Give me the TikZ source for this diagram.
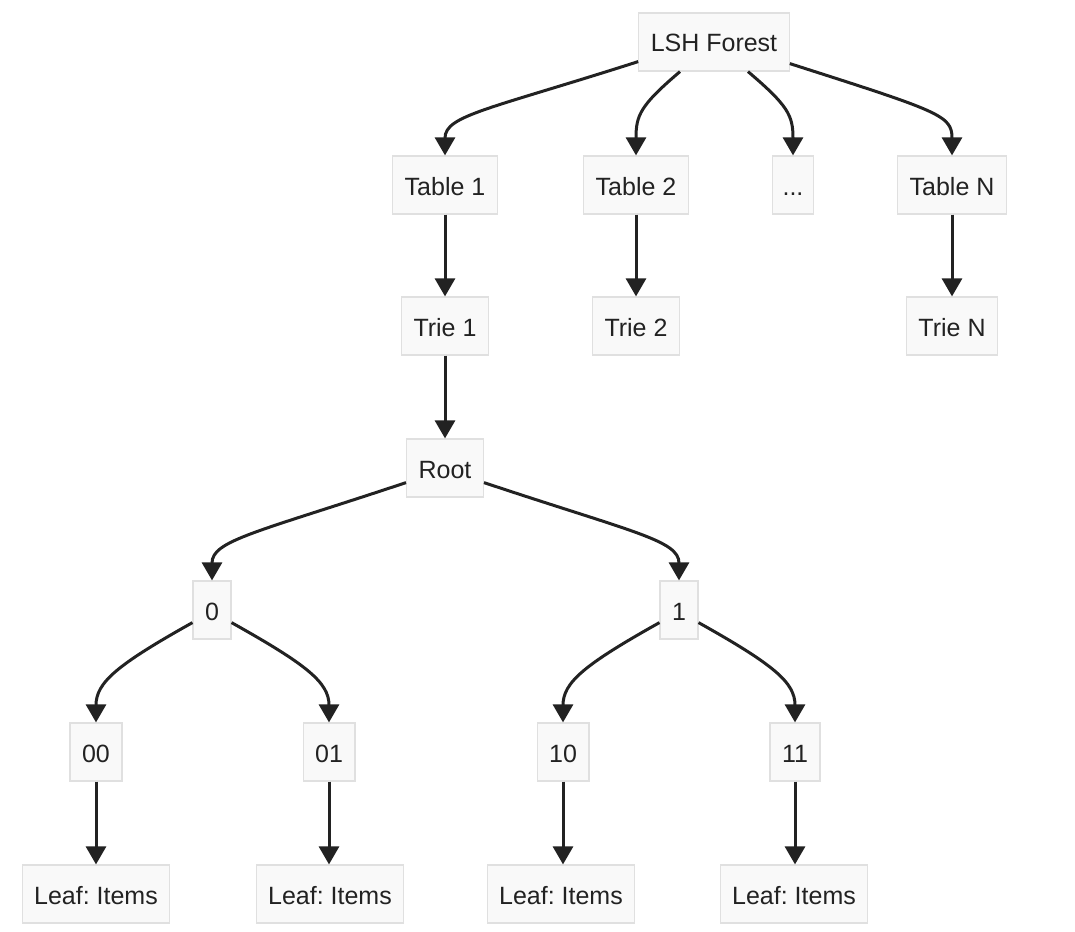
\documentclass[tikz,border=0pt]{standalone}
\usepackage{fontspec}
\setmainfont{Liberation Sans}
\usetikzlibrary{arrows.meta}
\definecolor{nfill}{HTML}{F9F9F9}
\definecolor{nline}{HTML}{E0E0E0}
\definecolor{ink}{HTML}{222222}
\frenchspacing
\begin{document}
\begin{tikzpicture}[x=1pt,y=-1pt,
  box/.style={draw=nline,fill=nfill,line width=1.2pt,minimum height=58pt,inner xsep=12pt,inner ysep=0pt,text=ink,font=\fontsize{25}{30}\selectfont,text depth=0pt,text height=20pt},
  arr/.style={draw=ink,line width=3pt,-{Triangle[length=18pt,width=20pt]}}]
\useasboundingbox (0,0) rectangle (1075,931);
\node[box] (lsh) at (714,42) {LSH Forest};
\node[box] (t1) at (445,185) {Table 1};
\node[box] (t2) at (636,185) {Table 2};
\node[box,inner xsep=10pt] (td) at (793,185) {.{}.{}.};
\node[box] (tn) at (952,185) {Table N};
\node[box] (r1) at (445,326) {Trie 1};
\node[box] (r2) at (636,326) {Trie 2};
\node[box] (rn) at (952,326) {Trie N};
\node[box] (root) at (445,468) {Root};
\node[box] (n0) at (212,610) {0};
\node[box] (n1) at (679,610) {1};
\node[box] (n00) at (96,752) {00};
\node[box] (n01) at (329,752) {01};
\node[box] (n10) at (563,752) {10};
\node[box] (n11) at (795,752) {11};
\node[box] (l1) at (96,894) {Leaf: Items};
\node[box] (l2) at (330,894) {Leaf: Items};
\node[box] (l3) at (561,894) {Leaf: Items};
\node[box] (l4) at (794,894) {Leaf: Items};

% LSH Forest to tables
\draw[arr] ([yshift=10pt]lsh.south west) .. controls +(-150,48) and +(0,-40) .. (t1.north);
\draw[arr] ([xshift=-34pt]lsh.south) .. controls +(-40,34) and +(0,-40) .. (t2.north);
\draw[arr] ([xshift=34pt]lsh.south) .. controls +(40,34) and +(0,-40) .. (td.north);
\draw[arr] ([yshift=8pt]lsh.south east) .. controls +(150,48) and +(0,-40) .. (tn.north);
% tables to tries
\draw[arr] (t1) -- (r1);
\draw[arr] (t2) -- (r2);
\draw[arr] (tn) -- (rn);
\draw[arr] (r1) -- (root);
% root to 0 / 1
\draw[arr] ([yshift=15pt]root.south west) .. controls +(-150,50) and +(0,-40) .. (n0.north);
\draw[arr] ([yshift=15pt]root.south east) .. controls +(150,50) and +(0,-40) .. (n1.north);
% 0 / 1 to children
\draw[arr] ([yshift=17pt]n0.south west) .. controls +(-75,42) and +(0,-40) .. (n00.north);
\draw[arr] ([yshift=17pt]n0.south east) .. controls +(75,42) and +(0,-40) .. (n01.north);
\draw[arr] ([yshift=17pt]n1.south west) .. controls +(-75,42) and +(0,-40) .. (n10.north);
\draw[arr] ([yshift=17pt]n1.south east) .. controls +(75,42) and +(0,-40) .. (n11.north);
% leaves
\draw[arr] (n00) -- (l1);
\draw[arr] (n01) -- (n01 |- l2.north);
\draw[arr] (n10) -- (n10 |- l3.north);
\draw[arr] (n11) -- (n11 |- l4.north);
\end{tikzpicture}
\end{document}
